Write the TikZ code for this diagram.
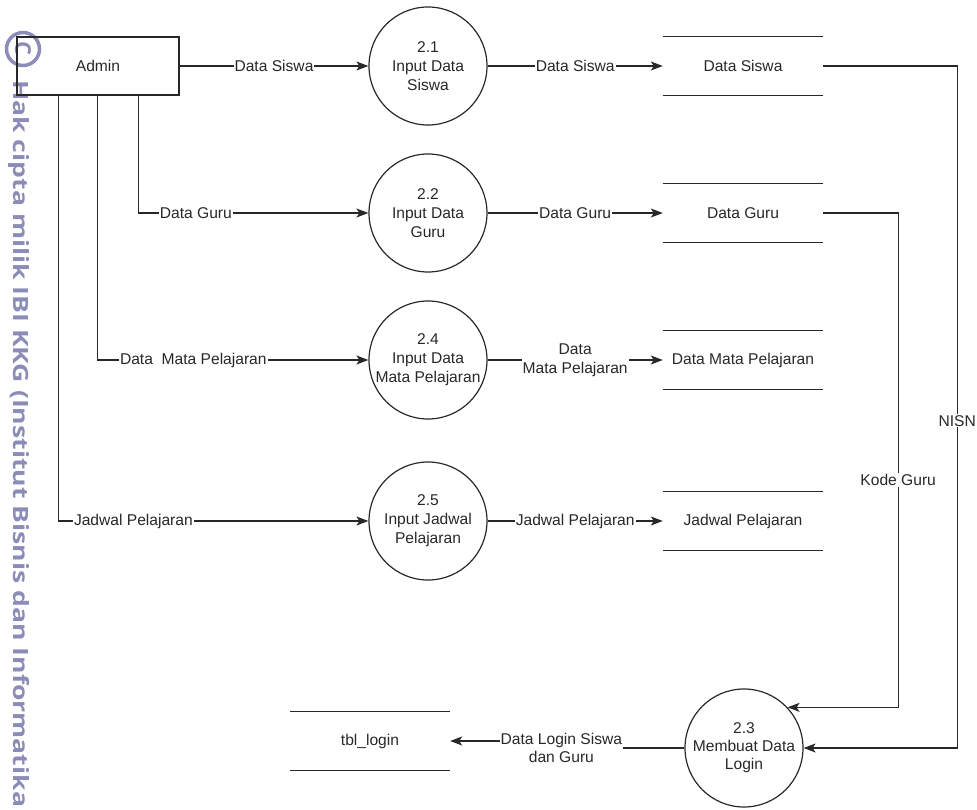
\documentclass[tikz,border=0pt]{standalone}
\usepackage{fontspec}
\setmainfont{Liberation Sans}
\newfontfamily\wmfont{Open Sans}
\usetikzlibrary{arrows.meta,shapes.geometric}
\definecolor{wm}{RGB}{140,140,185}
\definecolor{ink}{RGB}{40,40,40}
\begin{document}
\begin{tikzpicture}[x=1pt,y=-1pt,
  every node/.style={font=\fontsize{15.6}{19}\selectfont, text=ink},
  ln/.style={line width=1.2pt, draw=ink},
  arr/.style={ln, -{Stealth[length=12pt,width=9pt,inset=3pt]}},
  lbl/.style={fill=white, inner sep=1pt},
  proc/.style={circle, draw=ink, line width=1.2pt, minimum size=118pt, inner sep=0pt, align=center},
  store/.style={minimum width=160pt, minimum height=58pt, inner sep=0pt},
  ent/.style={draw=ink, line width=1.2pt, minimum width=162pt, minimum height=58pt, inner sep=0pt},
  wmk/.style={rotate=-90, text=wm, inner sep=0pt}]
\useasboundingbox (0,0) rectangle (977,810);

% watermark
\node[wmk, anchor=base west, font=\wmfont\bfseries\fontsize{21}{21}\selectfont] (wmtext) at (13,80) {\resizebox{727pt}{\height}{Hak cipta milik IBI KKG (Institut Bisnis dan Informatika}};
\node[wmk, circle, draw=wm, line width=3.5pt, minimum size=33pt, font=\wmfont\bfseries\fontsize{22}{22}\selectfont] (wmc) at (23,49) {C};

% entity
\node[ent] (admin) at (98,66) {Admin};

% processes
\node[proc] (p21) at (428,66) {2.1\\Input Data\\Siswa};
\node[proc] (p22) at (428,213) {2.2\\Input Data\\Guru};
\node[proc] (p24) at (428,360) {2.4\\Input Data\\Mata Pelajaran};
\node[proc] (p25) at (428,521) {2.5\\Input Jadwal\\Pelajaran};
\node[proc, font=\fontsize{15.6}{18}\selectfont] (p23) at (744,748) {2.3\\Membuat Data\\Login};

% data stores
\node[store] (dsiswa) at (743,66) {Data Siswa};
\node[store] (dguru) at (743,213) {Data Guru};
\node[store] (dmapel) at (743,360) {Data Mata Pelajaran};
\node[store] (djadwal) at (743,521) {Jadwal Pelajaran};
\node[store] (tlogin) at (370,741) {tbl\_login};
\foreach \s in {dsiswa,dguru,dmapel,djadwal,tlogin}{
  \draw[ln] (\s.north west) -- (\s.north east);
  \draw[ln] (\s.south west) -- (\s.south east);
}

% flows from admin
\draw[arr] (admin.east) -- node[lbl]{Data Siswa} (p21.west);
\draw[arr] ([xshift=122pt]admin.south west) |- node[lbl, pos=0.625]{Data Guru} (p22.west);
\draw[arr] ([xshift=81pt]admin.south west) |- node[lbl, pos=0.677]{Data\ \ Mata Pelajaran} (p24.west);
\draw[arr] ([xshift=42pt]admin.south west) |- node[lbl, pos=0.621]{Jadwal Pelajaran} (p25.west);

% flows to stores
\draw[arr] (p21.east) -- node[lbl]{Data Siswa} (dsiswa.west);
\draw[arr] (p22.east) -- node[lbl]{Data Guru} (dguru.west);
\draw[arr] (p24.east) -- node[lbl, align=center, font=\fontsize{15.6}{19}\selectfont]{Data\\Mata Pelajaran} (dmapel.west);
\draw[arr] (p25.east) -- node[lbl]{Jadwal Pelajaran} (djadwal.west);

% stores to 2.3
\draw[arr] (dsiswa.east) -- ++(134,0) |- node[lbl, pos=0.26]{NISN} (p23.east);
\draw[arr] (dguru.east) -- ++(75,0) |- node[lbl, pos=0.27]{Kode Guru} (p23.43);

% 2.3 to tbl_login
\draw[arr] (p23.west) -- ++(-123,0) node[lbl, align=center, font=\fontsize{15.6}{18}\selectfont]{Data Login Siswa\\dan Guru} |- (tlogin.east);
\end{tikzpicture}
\end{document}
